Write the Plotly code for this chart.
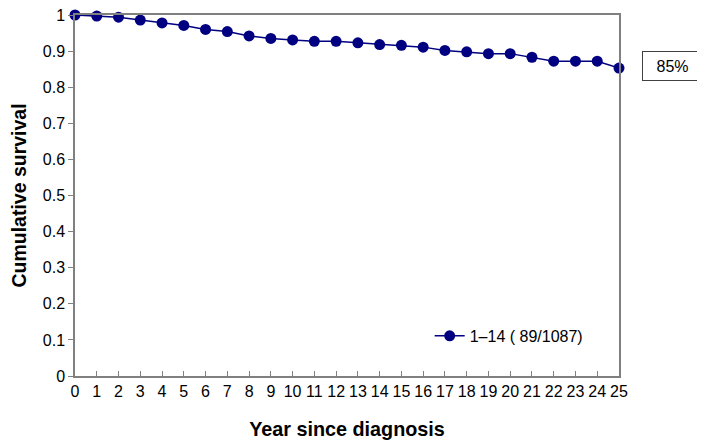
import plotly.graph_objects as go

years = list(range(0, 26))
survival = [1.0, 0.997, 0.994, 0.986, 0.978, 0.971, 0.960, 0.954, 0.942, 0.935,
            0.931, 0.927, 0.927, 0.923, 0.918, 0.916, 0.911, 0.902, 0.898, 0.893,
            0.893, 0.883, 0.872, 0.872, 0.872, 0.853]
series_name = "1\u201314 ( 89/1087)"
y_ticks = [0, 0.1, 0.2, 0.3, 0.4, 0.5, 0.6, 0.7, 0.8, 0.9, 1]
y_tick_labels = ["0", "0.1", "0.2", "0.3", "0.4", "0.5", "0.6", "0.7", "0.8", "0.9", "1"]
end_label = "85%"

navy = "#000080"
font = "Liberation Sans, Arial, sans-serif"

fig = go.Figure()
fig.add_trace(go.Scatter(
    x=years, y=survival, mode="lines+markers", name=series_name,
    line=dict(color=navy, width=1.5),
    marker=dict(color=navy, size=11, symbol="circle"),
    cliponaxis=False,
))

# page body has an 8px margin; compensate so the plot area lands at 75..619 x 15..376
fig.update_layout(
    width=697, height=440,
    margin=dict(l=67, r=86, t=7, b=72, autoexpand=False),
    paper_bgcolor="white", plot_bgcolor="white",
    font=dict(family=font, color="#000000", size=16),
    showlegend=True,
    legend=dict(x=0.652, y=0.111, xanchor="left", yanchor="middle",
                bgcolor="rgba(0,0,0,0)", font=dict(size=16, family=font)),
    xaxis=dict(range=[0, 25], tickmode="array", tickvals=years,
               ticktext=[str(v) for v in years], automargin=False,
               showgrid=False, zeroline=False, showline=True, linecolor="#808080",
               linewidth=1.5, mirror=True, ticks="inside", ticklen=5, tickcolor="#808080",
               tickfont=dict(size=16, family=font), ticklabeloverflow="allow",
               title=dict(text="<b>Year since diagnosis</b>", font=dict(size=19.8, family=font),
                          standoff=23)),
    yaxis=dict(range=[0, 1], tickmode="array", tickvals=y_ticks, ticktext=y_tick_labels,
               automargin=False, ticklabeloverflow="allow",
               showgrid=False, zeroline=False, showline=True, linecolor="#808080",
               linewidth=1.5, mirror=True, ticks="outside", ticklen=5, tickcolor="#808080",
               tickfont=dict(size=16, family=font),
               title=dict(text="<b>Cumulative survival</b>", font=dict(size=19.5, family=font),
                          standoff=12)),
)

fig.add_annotation(
    x=1.0, xref="paper", xshift=53, xanchor="center",
    y=survival[-1], yref="y", yshift=2, yanchor="middle",
    text=end_label, showarrow=False, font=dict(size=16, family=font),
    bordercolor="#404040", borderwidth=1, borderpad=6, bgcolor="white",
    width=47, height=16,
)

fig.write_html("out.html")
